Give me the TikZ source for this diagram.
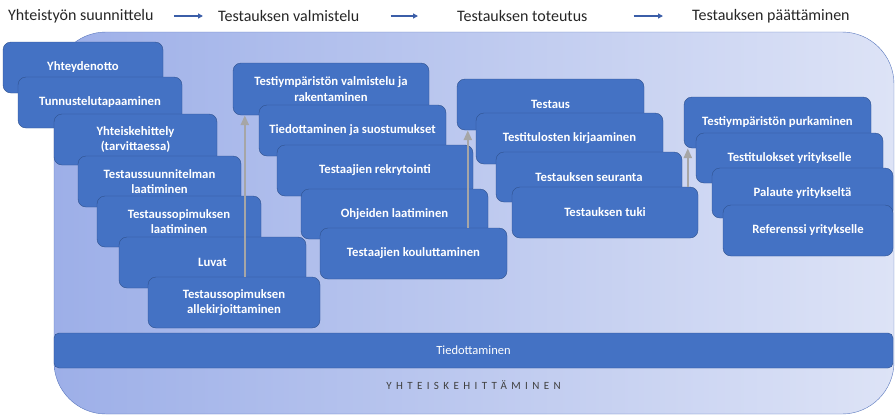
\documentclass[tikz,border=0pt]{standalone}
\usepackage{fontspec}
\setmainfont{Carlito}
\newfontfamily\spacedfont[LetterSpace=40]{Carlito}
\usetikzlibrary{arrows.meta}

\definecolor{boxblue}{HTML}{4472C4}
\definecolor{boxline}{HTML}{2F528F}
\definecolor{bgleft}{HTML}{9DAFE8}
\definecolor{bgright}{HTML}{DDE3F6}
\definecolor{bgline}{HTML}{5A78BE}
\definecolor{hdrblue}{HTML}{3B5EA8}

\begin{document}
\begin{tikzpicture}
  [x=1pt,y=-1pt,
   box/.style={rectangle,rounded corners=8pt,draw=boxline,fill=boxblue,text=white,
     font=\fontsize{12.7}{15.5}\selectfont\bfseries,align=center,minimum height=51pt,inner sep=2pt},
   phase/.style={anchor=west,inner sep=0pt,font=\fontsize{16}{18}\selectfont,text=black!85},
   hdr/.style={draw=hdrblue,line width=1.8pt,-{Triangle[width=5pt,length=5pt]}},
   flow/.style={draw=black!35,line width=2.4pt,-{Triangle[width=8pt,length=10pt]}}]
  \useasboundingbox (0,0) rectangle (895,416);

  % tausta
  \path[draw=bgline,left color=bgleft,right color=bgright,rounded corners=52pt]
    (54,32) rectangle (894,414);

  % vaiheet
  \node[phase] (h1) at (8,16) {Yhteistyön suunnittelu};
  \node[phase] (h2) at (218,16) {Testauksen valmistelu};
  \node[phase] (h3) at (457,16) {Testauksen toteutus};
  \node[phase] (h4) at (692,16) {Testauksen päättäminen};

  \draw[hdr] ([xshift=20pt]h1.east) -- ([xshift=-15pt]h2.west);
  \draw[hdr] ([xshift=31pt]h2.east) -- ([xshift=-39pt]h3.west);
  \draw[hdr] ([xshift=46pt]h3.east) -- ([xshift=-29pt]h4.west);

  % yhteistyön suunnittelu
  \node[box,minimum width=160pt] (yht) at (83,67.5) {Yhteydenotto};
  \node[box,minimum width=164pt] (tunn) at (100,102.5) {Tunnustelutapaaminen};
  \node[box,minimum width=163pt] (ykeh) at (135.5,139.5) {Yhteiskehittely\\(tarvittaessa)};
  \node[box,minimum width=163pt] (tsuun) at (159.5,181.5) {Testaussuunnitelman\\laatiminen};
  \node[box,minimum width=164pt] (tsop) at (179,221.5) {Testaussopimuksen\\laatiminen};
  \node[box,minimum width=187pt] (luvat) at (212.5,262.5) {Luvat};
  \node[box,minimum width=172pt] (alle) at (234,302.5) {Testaussopimuksen\\allekirjoittaminen};

  % testauksen valmistelu
  \node[box,minimum width=196pt,minimum height=52pt] (valm) at (331,89) {Testiympäristön valmistelu ja\\rakentaminen};
  \node[box,minimum width=187pt] (tied) at (352.5,130.5) {Tiedottaminen ja suostumukset};
  \node[box,minimum width=196pt] (rekr) at (375,170.5) {Testaajien rekrytointi};
  \node[box,minimum width=187pt,minimum height=50pt] (ohj) at (394.5,214) {Ohjeiden laatiminen};
  \node[box,minimum width=187pt] (koul) at (413.5,253.5) {Testaajien kouluttaminen};

  % testauksen toteutus
  \node[box,minimum width=187pt] (test) at (550.5,104.5) {Testaus};
  \node[box,minimum width=187pt] (kirj) at (569.5,138.5) {Testitulosten kirjaaminen};
  \node[box,minimum width=186pt,minimum height=50pt] (seur) at (589,177) {Testauksen seuranta};
  \node[box,minimum width=186pt] (tuki) at (605,212.5) {Testauksen tuki};

  % testauksen päättäminen
  \node[box,minimum width=187pt] (purk) at (777.5,122.5) {Testiympäristön purkaminen};
  \node[box,minimum width=187pt,minimum height=50pt] (tulok) at (789.5,158) {Testitulokset yritykselle};
  \node[box,minimum width=181pt,minimum height=50pt] (pal) at (802.5,193) {Palaute yritykseltä};
  \node[box,minimum width=170pt] (ref) at (808,230.5) {Referenssi yritykselle};

  % siirtymät
  \coordinate (ya) at ([xshift=12pt]valm.south west);
  \coordinate (yb) at ([xshift=11pt]test.south west);
  \coordinate (yc) at ([xshift=4pt]purk.south west);
  \draw[flow] (alle.north -| ya) -- (ya);
  \draw[flow] (koul.north -| yb) -- (yb);
  \draw[flow] (tuki.north -| yc) -- (yc);

  % tiedottaminen
  \node[box,rounded corners=5pt,minimum width=839pt,minimum height=35pt,
    font=\fontsize{12.5}{14}\selectfont] (tiedo) at (473.5,350.5) {Tiedottaminen};
  \node[text=black!75,font=\fontsize{11}{13}\spacedfont] (yk) at (473.5,385) {YHTEISKEHITTÄMINEN};
\end{tikzpicture}
\end{document}
